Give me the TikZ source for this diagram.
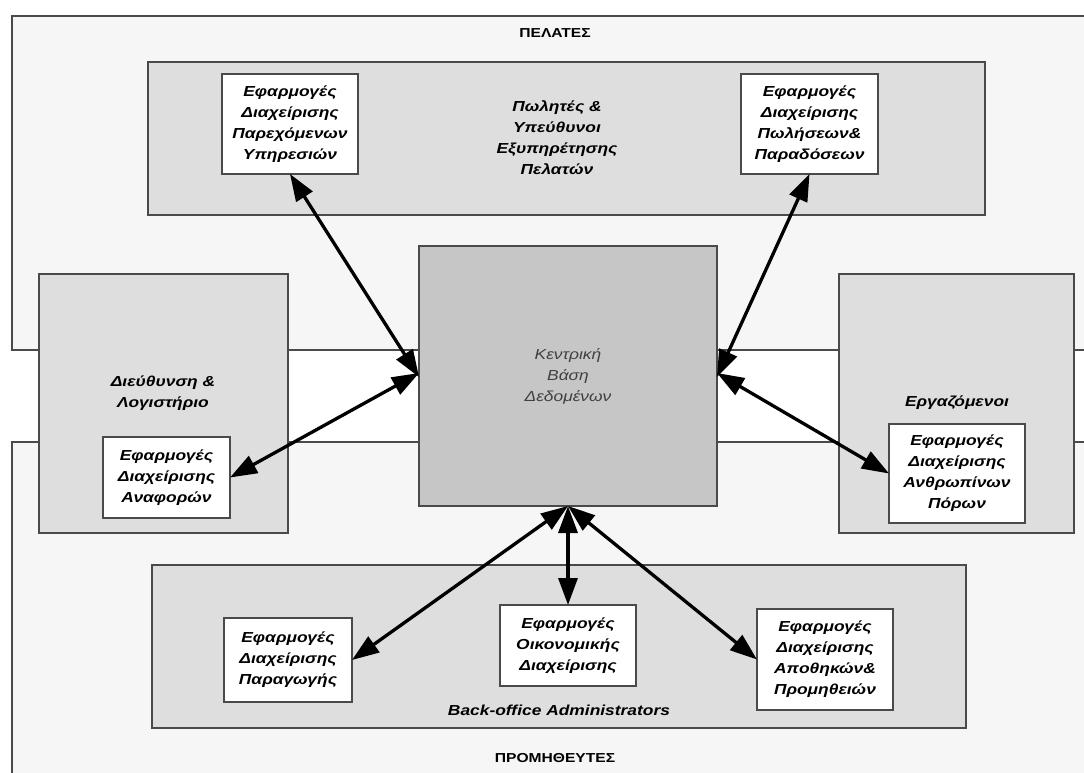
\documentclass[tikz,border=0pt]{standalone}
\usepackage{fontspec}
\setmainfont{Liberation Sans}[FakeStretch=1.2]
\usetikzlibrary{arrows.meta}
\definecolor{outerfill}{HTML}{F6F6F6}
\definecolor{grpfill}{HTML}{DEDEDE}
\definecolor{dbfill}{HTML}{C6C6C6}
\definecolor{edgecol}{HTML}{4A4A4A}
\definecolor{dbtext}{HTML}{404040}
\newcommand\appfont{\bfseries\itshape\fontsize{14.5}{21}\selectfont}
\newcommand\capfont{\bfseries\fontsize{13}{16}\selectfont}
\newcommand\dbfont{\itshape\fontsize{14.5}{21}\selectfont}
\begin{document}
\begin{tikzpicture}[x=1pt,y=-1pt,
  frame/.style={draw=edgecol, line width=1.6pt, inner sep=0pt, outer sep=0pt},
  outerbox/.style={frame, fill=outerfill},
  grpbox/.style={frame, fill=grpfill},
  dbbox/.style={frame, fill=dbfill},
  appbox/.style={frame, fill=white, align=center, font=\appfont},
  lbl/.style={align=center, font=\appfont, inner sep=0pt},
  link/.style={{Triangle[length=27pt,width=19pt]}-{Triangle[length=27pt,width=19pt]}, line width=3.3pt}
]
\useasboundingbox (0,0) rectangle (1084,772);
\fill[white] (0,0) rectangle (1084,772);
\clip (0,0) rectangle (1084,772);

% outer regions
\node[outerbox, minimum width=1112pt, minimum height=334pt] (pel) at (568,183) {};
\node[outerbox, minimum width=1112pt, minimum height=388pt] (prom) at (568,636) {};

% groups
\node[grpbox, minimum width=837pt, minimum height=153pt] (sales) at (566.5,138.5) {};
\node[grpbox, minimum width=249pt, minimum height=259pt] (mgmt) at (163.5,403.5) {};
\node[grpbox, minimum width=235pt, minimum height=259pt] (emp) at (956.5,403.5) {};
\node[grpbox, minimum width=814pt, minimum height=163pt] (back) at (559,646.5) {};

% central database
\node[dbbox, minimum width=298pt, minimum height=260pt] (db) at (568,376) {};

% applications
\node[appbox, minimum width=136pt, minimum height=100pt] (appServ) at (290,124)
  {Εφαρμογές\\Διαχείρισης\\Παρεχόμενων\\Υπηρεσιών};
\node[appbox, minimum width=137pt, minimum height=100pt] (appSales) at (809.5,124)
  {Εφαρμογές\\Διαχείρισης\\Πωλήσεων\&\\Παραδόσεων};
\node[appbox, minimum width=127pt, minimum height=81pt] (appRep) at (166.5,477.5)
  {Εφαρμογές\\Διαχείρισης\\Αναφορών};
\node[appbox, minimum width=136pt, minimum height=99pt] (appHR) at (957,473.5)
  {Εφαρμογές\\Διαχείρισης\\Ανθρωπίνων\\Πόρων};
\node[appbox, minimum width=128pt, minimum height=84pt] (appProd) at (288,660)
  {Εφαρμογές\\Διαχείρισης\\Παραγωγής};
\node[appbox, minimum width=136pt, minimum height=81pt] (appFin) at (568,645.5)
  {Εφαρμογές\\Οικονομικής\\Διαχείρισης};
\node[appbox, minimum width=136pt, minimum height=101pt] (appStore) at (825,659.5)
  {Εφαρμογές\\Διαχείρισης\\Αποθηκών\&\\Προμηθειών};

% labels
\node[lbl, font=\capfont] (pelT) at (555,33) {ΠΕΛΑΤΕΣ};
\node[lbl, font=\capfont] (promT) at (555,758) {ΠΡΟΜΗΘΕΥΤΕΣ};
\node[lbl] (salesT) at (557,138) {Πωλητές \&\\Υπεύθυνοι\\Εξυπηρέτησης\\Πελατών};
\node[lbl, font=\dbfont, text=dbtext] (dbT) at (568,376) {Κεντρική\\Βάση\\Δεδομένων};
\node[lbl] (mgmtT) at (163,393) {Διεύθυνση \&\\Λογιστήριο};
\node[lbl] (empT) at (957,403) {Εργαζόμενοι};
\node[lbl] (backT) at (559,710) {Back-office Administrators};

% connectors
\coordinate (dbL1) at ([yshift=-1pt]db.west);
\coordinate (dbL2) at ([yshift=3pt]db.west);
\coordinate (dbR1) at ([yshift=-1pt]db.east);
\coordinate (dbR2) at ([yshift=3pt]db.east);
\draw[link] (appServ.south) -- (dbL1);
\draw[link] (appRep.east) -- (dbL2);
\draw[link] (appSales.south) -- (dbR1);
\draw[link] (appHR.west) -- (dbR2);
\draw[link] (db.south) -- (appProd.east);
\draw[link] (db.south) -- (appFin.north);
\draw[link] (db.south) -- (appStore.west);
\end{tikzpicture}
\end{document}
